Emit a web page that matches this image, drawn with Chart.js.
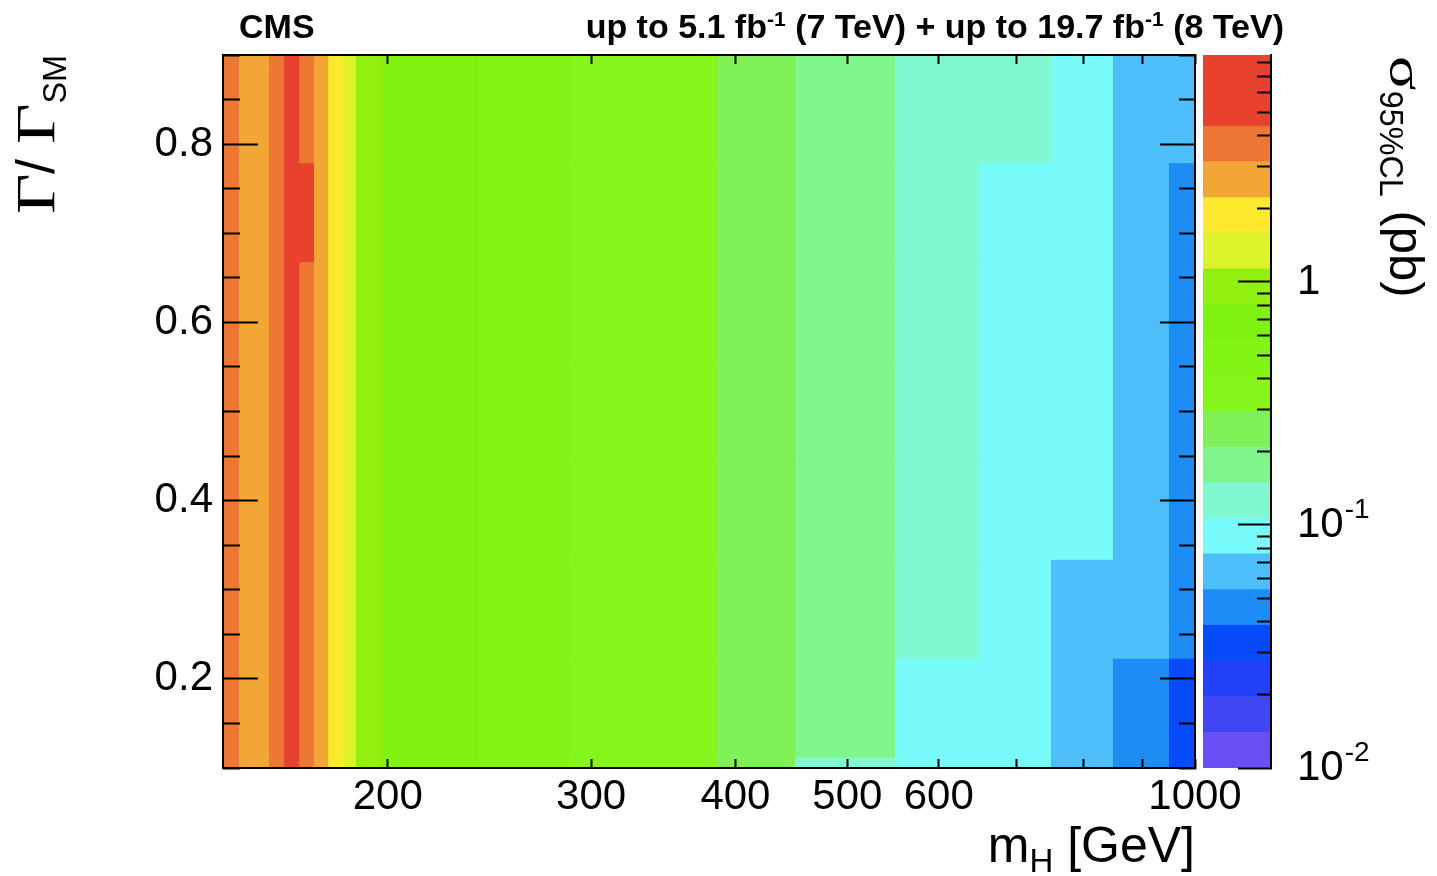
<!DOCTYPE html>
<html>
<head>
<meta charset="utf-8">
<title>sigma 95% CL vs m_H and Gamma/Gamma_SM</title>
<script src="https://cdn.jsdelivr.net/npm/chart.js@4.4.1/dist/chart.umd.min.js"></script>
<style>
  html, body { margin: 0; padding: 0; background: #fff; }
  #page { position: relative; width: 1437px; height: 876px; overflow: hidden;
          font-family: 'Liberation Sans', Arial, sans-serif; color: #000; }
  #page canvas { position: absolute; left: 0; top: 0; }
  .txt { position: absolute; left: 0; top: 0; white-space: nowrap; line-height: 1; }
  .sub { position: relative; }
  .sup { position: relative; top: -0.55em; font-size: 0.62em; }
  .greek { font-family: 'Liberation Serif', 'DejaVu Serif', serif; display: inline-block;
           transform: scaleX(1.3); transform-origin: 0 0; margin-right: 0.17em; }
</style>
</head>
<body>
<div id="page">
  <canvas id="mapChart" width="1437" height="876"></canvas>
  <canvas id="barChart" width="1437" height="876"></canvas>

  <div class="txt" style="left:239px; top:9px; font-weight:bold; font-size:34px;">CMS</div>
  <div class="txt" style="left:auto; right:153px; top:9px; font-weight:bold; font-size:34px;">up to 5.1 fb<span class="sup">-1</span> (7 TeV) + up to 19.7 fb<span class="sup">-1</span> (8 TeV)</div>
  <div class="txt" style="left:auto; right:242px; top:820px; font-size:50px;">m<span class="sub" style="top:0.3em; font-size:0.66em;">H</span> [GeV]</div>
  <div class="txt" style="width:300px; text-align:right; font-size:54px; transform: translate(8px, 355px) rotate(-90deg); transform-origin: 0 0;"><span class="greek">Γ</span>/ <span class="greek">Γ</span><span class="sub" style="top:0.37em; font-size:0.6em;">SM</span></div>
  <div class="txt" style="font-size:49px; transform: translate(1431px, 56px) rotate(90deg); transform-origin: 0 0;"><span class="greek">σ</span><span class="sub" style="top:0.3em; font-size:0.66em;">95%CL</span> (pb)</div>
</div>

<script>
// m_H bin edges (GeV), read from the column boundaries
const massEdges = [144, 148.5, 153.3, 157.7, 162.5, 167.5, 172.5, 177.4, 182.8, 187.5, 197.6,
                   208.1, 219.5, 239.3, 287.3, 311.1, 360.2, 384.9, 449.9, 549.2, 649.2,
                   749.7, 848.3, 948.6, 1000];
// Gamma/Gamma_SM bin edges (visible part of the 9 bins)
const widthEdges = [0.1, 0.111, 0.222, 0.333, 0.444, 0.556, 0.667, 0.778, 0.889, 0.9];

// sigma_95%CL in pb, one list per mass bin, from low to high Gamma/Gamma_SM
const sigmaLimits = [
  [3.7, 3.7, 3.6, 3.6, 3.6, 3.6, 3.6, 3.7, 3.7],
  [2.7, 2.7, 2.7, 2.7, 2.7, 2.7, 2.7, 2.7, 2.7],
  [2.6, 2.6, 2.6, 2.6, 2.6, 2.6, 2.6, 2.6, 2.6],
  [3.5, 3.5, 3.5, 3.5, 3.5, 3.5, 3.5, 3.5, 3.5],
  [5.4, 5.4, 5.3, 5.3, 5.3, 5.3, 5.3, 5.2, 5.2],
  [3.9, 3.9, 4.0, 4.0, 4.1, 4.2, 4.5, 4.3, 4.3],
  [2.4, 2.4, 2.4, 2.4, 2.4, 2.4, 2.4, 2.4, 2.4],
  [1.85, 1.85, 1.85, 1.85, 1.85, 1.85, 1.85, 1.85, 1.85],
  [1.35, 1.35, 1.35, 1.35, 1.35, 1.35, 1.35, 1.35, 1.35],
  [0.95, 0.95, 0.95, 0.95, 0.95, 0.95, 0.95, 0.95, 0.95],
  [0.72, 0.72, 0.72, 0.72, 0.72, 0.72, 0.72, 0.72, 0.72],
  [0.68, 0.68, 0.68, 0.68, 0.68, 0.68, 0.68, 0.68, 0.68],
  [0.62, 0.62, 0.62, 0.62, 0.62, 0.62, 0.62, 0.62, 0.62],
  [0.52, 0.52, 0.52, 0.52, 0.52, 0.52, 0.52, 0.52, 0.52],
  [0.39, 0.39, 0.39, 0.39, 0.39, 0.39, 0.39, 0.39, 0.39],
  [0.35, 0.35, 0.35, 0.35, 0.35, 0.35, 0.35, 0.35, 0.35],
  [0.31, 0.31, 0.31, 0.31, 0.31, 0.31, 0.31, 0.31, 0.31],
  [0.25, 0.25, 0.25, 0.25, 0.25, 0.25, 0.25, 0.25, 0.25],
  [0.145, 0.18, 0.18, 0.18, 0.18, 0.18, 0.18, 0.18, 0.18],
  [0.095, 0.1, 0.125, 0.125, 0.125, 0.125, 0.125, 0.125, 0.125],
  [0.085, 0.085, 0.085, 0.085, 0.085, 0.085, 0.085, 0.11, 0.11],
  [0.07, 0.07, 0.072, 0.08, 0.08, 0.08, 0.08, 0.08, 0.08],
  [0.05, 0.052, 0.062, 0.062, 0.062, 0.062, 0.062, 0.062, 0.062],
  [0.036, 0.037, 0.045, 0.046, 0.047, 0.048, 0.05, 0.056, 0.056]
];

// 20 contour levels of the z axis (pb), log spaced
const sigmaLevels = [0.01, 0.0140, 0.0196, 0.0275, 0.0386, 0.0541, 0.0759, 0.106, 0.149, 0.209,
                     0.293, 0.411, 0.576, 0.807, 1.13, 1.59, 2.22, 3.12, 4.37, 6.12, 8.59];
const palette = ['#6950F5', '#4146F5', '#2341F8', '#084BFA', '#1E8CF5', '#4DBEFA', '#78FAFA',
                 '#80F7D0', '#80F58C', '#80F058', '#85F51C', '#82F416', '#80F212', '#91F010',
                 '#DCF22A', '#FDEA2E', '#F2A635', '#ED7734', '#E8422F', '#E8422F'];

// axis ticks and labels
const massTicks = [200, 300, 400, 500, 600, 700, 800, 900, 1000];
const massLabels = [200, 300, 400, 500, 600, 1000];
const gammaTicks = [0.1, 0.15, 0.2, 0.25, 0.3, 0.35, 0.4, 0.45, 0.5, 0.55, 0.6, 0.65, 0.7, 0.75, 0.8, 0.85, 0.9];
const gammaLabels = [0.2, 0.4, 0.6, 0.8];
const sigmaTicks = [0.01, 0.02, 0.03, 0.04, 0.05, 0.06, 0.07, 0.08, 0.09,
                    0.1, 0.2, 0.3, 0.4, 0.5, 0.6, 0.7, 0.8, 0.9,
                    1, 2, 3, 4, 5, 6, 7, 8];
const sigmaMajor = [0.01, 0.1, 1];
const sigmaBase = ['10', '10', '1'];
const sigmaExponent = ['-2', '-1', ''];

const FONT = "'Liberation Sans', Arial, sans-serif";
const LABEL_GAP = 26; // colour bar labels, distance from the bar

function near(list, v) {
    return list.some(t => Math.abs(t - v) < 1e-9);
}

function bandColor(z) {
    let k = 0;
    while (k < palette.length - 1 && z >= sigmaLevels[k + 1]) k++;
    return palette[k];
}

function box(x0, x1, y0, y1) {
    return [{x: x0, y: y0}, {x: x1, y: y0}, {x: x1, y: y1}, {x: x0, y: y1}, {x: x0, y: y0}];
}

function cell(points, color) {
    return {
        data: points,
        showLine: true,
        fill: 'shape',
        backgroundColor: color,
        borderColor: color,
        borderWidth: 1,
        pointRadius: 0,
        pointHoverRadius: 0,
        pointHitRadius: 0
    };
}

const isMinor = (list) => (c) => !(c.tick && near(list, c.tick.value));

// ticks point into the frame; minor ones are cut short with a dash
function tickGrid(len, minorLen, list, fromInside) {
    const gap = len + 10;
    return {
        drawOnChartArea: false,
        drawTicks: true,
        tickLength: -len,
        tickWidth: 2,
        tickColor: '#000',
        z: 1,
        tickBorderDash: c => (minorLen && isMinor(list)(c)) ? [minorLen, gap] : [],
        // left/top ticks start at their inner end, so skip the first part of the gap
        tickBorderDashOffset: c => (minorLen && fromInside && isMinor(list)(c)) ? minorLen + gap - (len - minorLen) : 0
    };
}

const frame = { display: true, color: '#000', width: 2, z: 1 };

function noPadding(s) {
    s.paddingTop = 0;
    s.paddingBottom = 0;
    s.paddingLeft = 0;
    s.paddingRight = 0;
}

// superscripts of the colour bar labels (10^-1, 10^-2)
const exponentPlugin = {
    id: 'exponents',
    afterDraw(chart) {
        const s = chart.scales.y;
        const ctx = chart.ctx;
        ctx.save();
        ctx.fillStyle = '#000';
        ctx.textBaseline = 'alphabetic';
        ctx.textAlign = 'left';
        sigmaMajor.forEach((v, k) => {
            if (!sigmaExponent[k]) return;
            const y = s.getPixelForValue(v);
            ctx.font = '42px ' + FONT;
            const x = s.left + LABEL_GAP + ctx.measureText(sigmaBase[k]).width + 1;
            ctx.font = '28px ' + FONT;
            ctx.fillText(sigmaExponent[k], x, y - 7);
        });
        ctx.restore();
    }
};

document.addEventListener('DOMContentLoaded', () => {
    drawMap();
    drawColorBar();
});

function drawMap() {
    const cells = [];
    sigmaLimits.forEach((col, i) => {
        col.forEach((z, j) => {
            cells.push(cell(box(massEdges[i], massEdges[i + 1], widthEdges[j], widthEdges[j + 1]), bandColor(z)));
        });
    });

    const massAxis = (position, size, showLabels) => ({
        type: 'logarithmic',
        position: position,
        min: massEdges[0],
        max: massEdges[massEdges.length - 1],
        afterBuildTicks: s => { s.ticks = massTicks.map(v => ({value: v})); },
        afterFit: s => { s.height = size; noPadding(s); },
        grid: tickGrid(9, 0, massTicks, false),
        border: frame,
        ticks: {
            display: showLabels,
            autoSkip: false,
            maxRotation: 0,
            minRotation: 0,
            padding: 17,
            color: '#000',
            font: { family: FONT, size: 42, lineHeight: 1 },
            callback: v => near(massLabels, v) ? String(v) : ''
        }
    });

    const gammaAxis = (position, size, showLabels) => ({
        type: 'linear',
        position: position,
        min: widthEdges[0],
        max: widthEdges[widthEdges.length - 1],
        afterBuildTicks: s => { s.ticks = gammaTicks.map(v => ({value: v})); },
        afterFit: s => { s.width = size; noPadding(s); },
        grid: tickGrid(35, 17, gammaLabels, position === 'left'),
        border: frame,
        ticks: {
            display: showLabels,
            autoSkip: false,
            padding: 45,
            color: '#000',
            font: { family: FONT, size: 42, lineHeight: 1 },
            callback: v => near(gammaLabels, v) ? String(v) : ''
        }
    });

    new Chart(document.getElementById('mapChart'), {
        type: 'scatter',
        data: { datasets: cells },
        options: {
            responsive: false,
            animation: false,
            events: [],
            layout: { padding: { left: 100, right: 242, top: 55, bottom: 48 } },
            plugins: {
                legend: { display: false },
                tooltip: { enabled: false }
            },
            scales: {
                x: massAxis('bottom', 60, true),
                xTop: massAxis('top', 0, false),
                y: gammaAxis('left', 123, true),
                yRight: gammaAxis('right', 0, false)
            }
        }
    });
}

function drawColorBar() {
    const bands = palette.map((c, k) => cell(box(0, 1, sigmaLevels[k], sigmaLevels[k + 1]), c));

    new Chart(document.getElementById('barChart'), {
        type: 'scatter',
        data: { datasets: bands },
        plugins: [exponentPlugin],
        options: {
            responsive: false,
            animation: false,
            events: [],
            layout: { padding: { left: 1203, right: 66, top: 55, bottom: 108 } },
            plugins: {
                legend: { display: false },
                tooltip: { enabled: false }
            },
            scales: {
                x: { type: 'linear', min: 0, max: 1, display: false },
                y: {
                    type: 'logarithmic',
                    position: 'right',
                    min: sigmaLevels[0],
                    max: sigmaLevels[sigmaLevels.length - 1],
                    afterBuildTicks: s => { s.ticks = sigmaTicks.map(v => ({value: v})); },
                    afterFit: s => { s.width = 100; noPadding(s); },
                    grid: tickGrid(33, 15, sigmaMajor, false),
                    border: frame,
                    ticks: {
                        autoSkip: false,
                        padding: 33 + LABEL_GAP,
                        color: '#000',
                        font: { family: FONT, size: 42, lineHeight: 1 },
                        callback: v => {
                            const k = sigmaMajor.findIndex(t => Math.abs(t - v) < 1e-9);
                            return k >= 0 ? sigmaBase[k] : '';
                        }
                    }
                }
            }
        }
    });
}
</script>
</body>
</html>
